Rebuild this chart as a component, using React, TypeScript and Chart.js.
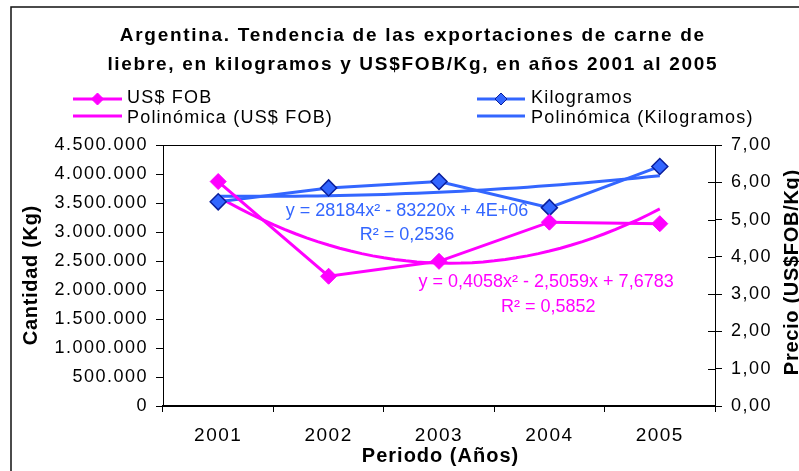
import React, { useEffect, useRef } from 'react';
import { Chart, registerables } from 'chart.js';

Chart.register(...registerables);

// ---------- data ----------
const years = ['2001', '2002', '2003', '2004', '2005'];
const yearIndex = [1, 2, 3, 4, 5];
const kilogramos = [3520000, 3760000, 3870000, 3420000, 4130000];
const usdFob = [6.02, 3.48, 3.88, 4.93, 4.89];
const kgTickLabels = ['0', '500.000', '1.000.000', '1.500.000', '2.000.000', '2.500.000', '3.000.000', '3.500.000', '4.000.000', '4.500.000'];
const priceTickLabels = ['0,00', '1,00', '2,00', '3,00', '4,00', '5,00', '6,00', '7,00'];
const titleLines = ['Argentina. Tendencia de las exportaciones de carne de', 'liebre, en kilogramos y US$FOB/Kg, en años 2001 al 2005'];
const legendLabels = ['US$ FOB', 'Kilogramos', 'Polinómica (US$ FOB)', 'Polinómica (Kilogramos)'];
const kgEquation = ['y = 28184x² - 83220x + 4E+06', 'R² = 0,2536'];
const fobEquation = ['y = 0,4058x² - 2,5059x + 7,6783', 'R² = 0,5852'];
const xTitle = 'Periodo (Años)';
const yTitle = 'Cantidad (Kg)';
const y2Title = 'Precio (US$FOB/Kg)';

const MAGENTA = '#FF00FF';
const BLUE = '#3366FF';
const NAVY = '#0A1E9C';
const FONT = "'Liberation Sans', Arial, Helvetica, sans-serif";

// least-squares quadratic fit (Excel "Polinómica" trendline, order 2)
function polyfit2(xs: number[], ys: number[]) {
  let s0 = 0, s1 = 0, s2 = 0, s3 = 0, s4 = 0, t0 = 0, t1 = 0, t2 = 0;
  xs.forEach((x, i) => {
    const y = ys[i];
    s0 += 1; s1 += x; s2 += x * x; s3 += x * x * x; s4 += x * x * x * x;
    t0 += y; t1 += x * y; t2 += x * x * y;
  });
  const M = [
    [s4, s3, s2, t2],
    [s3, s2, s1, t1],
    [s2, s1, s0, t0],
  ];
  for (let i = 0; i < 3; i++) {
    for (let k = i + 1; k < 3; k++) {
      const f = M[k][i] / M[i][i];
      for (let j = i; j < 4; j++) M[k][j] -= f * M[i][j];
    }
  }
  const r = [0, 0, 0];
  for (let i = 2; i >= 0; i--) {
    let s = M[i][3];
    for (let j = i + 1; j < 3; j++) s -= M[i][j] * r[j];
    r[i] = s / M[i][i];
  }
  return r; // a, b, c
}

function trendPoints(xs: number[], ys: number[]) {
  const [a, b, c] = polyfit2(xs, ys);
  const pts: { x: number; y: number }[] = [];
  const n = 40;
  const x0 = xs[0], x1 = xs[xs.length - 1];
  for (let i = 0; i <= n; i++) {
    const x = x0 + ((x1 - x0) * i) / n;
    pts.push({ x, y: a * x * x + b * x + c });
  }
  return pts;
}

function text(ctx: any, s: string, x: number, y: number, font: string, color: string, align: string, spacing: number) {
  ctx.save();
  ctx.font = font;
  ctx.fillStyle = color;
  ctx.textAlign = align;
  ctx.textBaseline = 'alphabetic';
  ctx.letterSpacing = spacing + 'px';
  ctx.fillText(s, align === 'center' ? x + spacing / 2 : x, y);
  ctx.restore();
}

function diamond(ctx: any, x: number, y: number, r: number, fill: string, stroke: string) {
  ctx.save();
  ctx.beginPath();
  ctx.moveTo(x, y - r);
  ctx.lineTo(x + r, y);
  ctx.lineTo(x, y + r);
  ctx.lineTo(x - r, y);
  ctx.closePath();
  ctx.fillStyle = fill;
  ctx.fill();
  ctx.strokeStyle = stroke;
  ctx.lineWidth = 1;
  ctx.stroke();
  ctx.restore();
}

const decorPlugin = {
  id: 'decor',
  beforeDraw(chart: any) {
    const ctx = chart.ctx;
    ctx.save();
    ctx.fillStyle = '#fff';
    ctx.fillRect(0, 0, chart.width, chart.height);
    ctx.restore();
    ctx.letterSpacing = '1.5px';
  },
  afterDraw(chart: any) {
    const ctx = chart.ctx;
    const ca = chart.chartArea;
    const sx = chart.scales.xl;
    const sy = chart.scales.y;
    const sy2 = chart.scales.y2;
    ctx.save();
    ctx.letterSpacing = '0px';
    // plot area top border
    ctx.strokeStyle = '#000';
    ctx.lineWidth = 1;
    ctx.beginPath();
    ctx.moveTo(ca.left, Math.round(ca.top) + 0.5);
    ctx.lineTo(ca.right, Math.round(ca.top) + 0.5);
    ctx.stroke();
    // inner half of right-axis tick marks
    sy2.ticks.forEach((t: any) => {
      const py = Math.round(sy2.getPixelForValue(t.value)) + 0.5;
      ctx.beginPath();
      ctx.moveTo(ca.right - 7, py);
      ctx.lineTo(ca.right, py);
      ctx.stroke();
    });
    // outer chart border
    ctx.lineWidth = 1.5;
    ctx.strokeStyle = '#111';
    ctx.strokeRect(11, 7, 1200, 1200);
    ctx.restore();

    // title
    const tf = `bold 19px ${FONT}`;
    text(ctx, titleLines[0], 412, 41, tf, '#000', 'center', 1.7);
    text(ctx, titleLines[1], 412, 70, tf, '#000', 'center', 1.7);

    // legend
    const lf = `18px ${FONT}`;
    const rows = [99, 116];
    const base = [103, 122.5];
    const cols = [
      { x0: 73, x1: 122, tx: 127, color: MAGENTA, stroke: MAGENTA },
      { x0: 477, x1: 525, tx: 531, color: BLUE, stroke: NAVY },
    ];
    cols.forEach((c, ci) => {
      for (let r = 0; r < 2; r++) {
        ctx.save();
        ctx.strokeStyle = c.color;
        ctx.lineWidth = 3;
        ctx.beginPath();
        ctx.moveTo(c.x0, rows[r]);
        ctx.lineTo(c.x1, rows[r]);
        ctx.stroke();
        ctx.restore();
        if (r === 0) diamond(ctx, (c.x0 + c.x1) / 2, rows[r], 6, c.color, c.stroke);
        text(ctx, legendLabels[r * 2 + ci], c.tx, base[r], lf, '#000', 'left', 1.2);
      }
    });

    // trendline equations
    const ef = `18px ${FONT}`;
    text(ctx, kgEquation[0], sx.getPixelForValue(2.71), sy.getPixelForValue(3276000), ef, BLUE, 'center', 0);
    text(ctx, kgEquation[1], sx.getPixelForValue(2.71), sy.getPixelForValue(2862000), ef, BLUE, 'center', 0);
    text(ctx, fobEquation[0], sx.getPixelForValue(3.97), sy2.getPixelForValue(3.2), ef, MAGENTA, 'center', 0);
    text(ctx, fobEquation[1], sx.getPixelForValue(3.99), sy2.getPixelForValue(2.53), ef, MAGENTA, 'center', 0);

    // axis titles
    const af = `bold 20px ${FONT}`;
    text(ctx, xTitle, 440, 462, af, '#000', 'center', 1);
    const midY = (ca.top + ca.bottom) / 2;
    ctx.save();
    ctx.translate(37, midY);
    ctx.rotate(-Math.PI / 2);
    text(ctx, yTitle, 0, 0, af, '#000', 'center', 0.7);
    ctx.restore();
    ctx.save();
    ctx.translate(798, midY - 3);
    ctx.rotate(-Math.PI / 2);
    text(ctx, y2Title, 0, 0, af, '#000', 'center', 0.7);
    ctx.restore();
  },
};

export default function App() {
  const ref = useRef<HTMLCanvasElement | null>(null);
  useEffect(() => {
    if (!ref.current) return;
    Chart.defaults.font.family = FONT;
    Chart.defaults.color = '#000';
    const chart = new Chart(ref.current, {
      type: 'line',
      data: {
        labels: years,
        datasets: [
          {
            label: legendLabels[0],
            data: usdFob.map((v, i) => ({ x: yearIndex[i], y: v })),
            xAxisID: 'xl',
            yAxisID: 'y2',
            borderColor: MAGENTA,
            backgroundColor: MAGENTA,
            borderWidth: 3,
            pointStyle: 'rectRot',
            pointRadius: 8,
            pointBackgroundColor: MAGENTA,
            pointBorderColor: MAGENTA,
            pointBorderWidth: 1,
            tension: 0,
            order: 1,
          },
          {
            label: legendLabels[1],
            data: kilogramos.map((v, i) => ({ x: yearIndex[i], y: v })),
            xAxisID: 'xl',
            yAxisID: 'y',
            borderColor: BLUE,
            backgroundColor: BLUE,
            borderWidth: 3,
            pointStyle: 'rectRot',
            pointRadius: 8,
            pointBackgroundColor: BLUE,
            pointBorderColor: NAVY,
            pointBorderWidth: 1.5,
            tension: 0,
            order: 1,
          },
          {
            label: legendLabels[2],
            data: trendPoints(yearIndex, usdFob),
            xAxisID: 'xl',
            yAxisID: 'y2',
            borderColor: MAGENTA,
            borderWidth: 3,
            pointRadius: 0,
            tension: 0,
            order: 2,
          },
          {
            label: legendLabels[3],
            data: trendPoints(yearIndex, kilogramos),
            xAxisID: 'xl',
            yAxisID: 'y',
            borderColor: BLUE,
            borderWidth: 3,
            pointRadius: 0,
            tension: 0,
            order: 2,
          },
        ],
      } as any,
      options: {
        responsive: false,
        animation: false,
        events: [],
        layout: { padding: { top: 145, left: 0, right: 0, bottom: 0 } },
        plugins: {
          legend: { display: false },
          title: { display: false },
          tooltip: { enabled: false },
        },
        scales: {
          x: {
            type: 'category',
            position: 'bottom',
            offset: true,
            grid: { offset: true, drawOnChartArea: false, drawTicks: true, tickLength: 6, color: '#000', lineWidth: 1 },
            border: { display: true, color: '#000', width: 2 },
            ticks: { font: { size: 19 }, color: '#000', padding: 12, maxRotation: 0, autoSkip: false },
            afterFit: (s: any) => { s.height = 65; },
          },
          xl: { type: 'linear', display: false, min: 0.5, max: 5.5 },
          y: {
            type: 'linear',
            position: 'left',
            min: 0,
            max: 4500000,
            ticks: { stepSize: 500000, callback: (_v: any, i: number) => kgTickLabels[i], font: { size: 18 }, color: '#000', padding: 8 },
            grid: { drawOnChartArea: false, drawTicks: true, tickLength: 7, color: '#000' },
            border: { display: true, color: '#000', width: 1 },
            afterFit: (s: any) => { s.width = 163; },
          },
          y2: {
            type: 'linear',
            position: 'right',
            min: 0,
            max: 7,
            ticks: { stepSize: 1, callback: (_v: any, i: number) => priceTickLabels[i], font: { size: 18 }, color: '#000', padding: 9 },
            grid: { drawOnChartArea: false, drawTicks: true, tickLength: 7, color: '#000' },
            border: { display: true, color: '#000', width: 1 },
            afterFit: (s: any) => { s.width = 84; },
          },
        },
      } as any,
      plugins: [decorPlugin],
    });
    return () => chart.destroy();
  }, []);
  return (
    <canvas
      ref={ref}
      width={799}
      height={471}
      style={{ position: 'fixed', left: 0, top: 0, width: 799, height: 471 }}
    />
  );
}
